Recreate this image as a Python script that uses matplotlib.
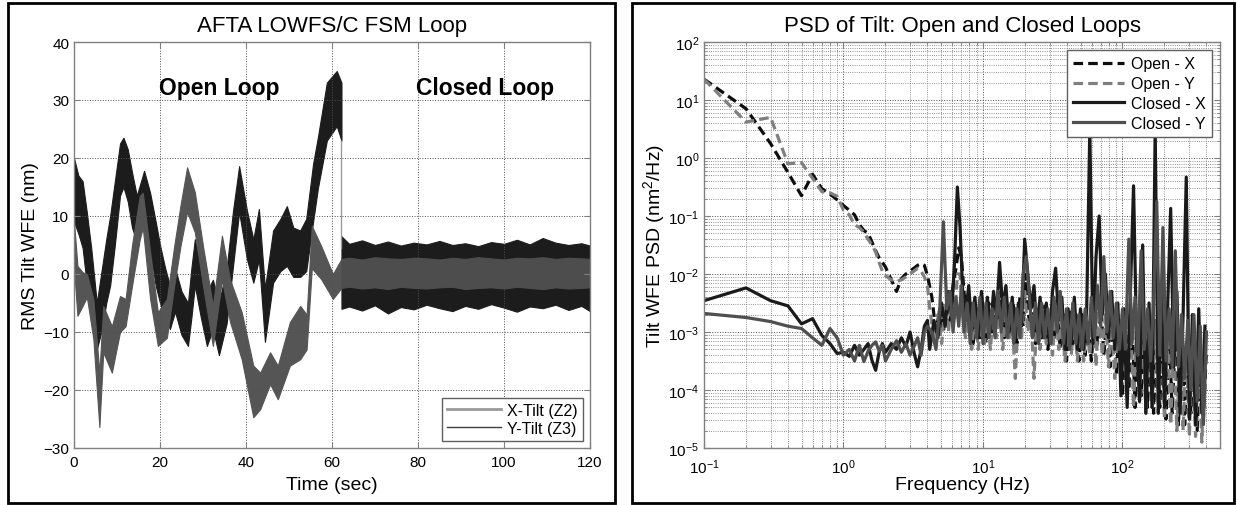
import numpy as np
import matplotlib
matplotlib.use("Agg")
import matplotlib.pyplot as plt
from matplotlib.lines import Line2D
from matplotlib.patches import Rectangle
from matplotlib.ticker import NullFormatter

plt.rcParams['font.family'] = ['Liberation Sans', 'DejaVu Sans']
plt.rcParams['mathtext.fontset'] = 'custom'
plt.rcParams['mathtext.rm'] = 'Liberation Sans'
plt.rcParams['mathtext.it'] = 'Liberation Sans:italic'
plt.rcParams['mathtext.bf'] = 'Liberation Sans:bold'

# ---- left panel: tilt time series, drawn as (lower, upper) envelope bands ----
t_x_open = [0, 1, 2, 3, 4, 5.3, 6.5, 7.5, 8.4, 9.5, 10.7, 11.5, 12.5, 13.5, 14.6, 16.3, 17.7,
            19, 20, 21.2, 22.3, 23.5, 25, 26.5, 27.3, 28.1, 29.5, 30.9, 32.3, 33.7, 35.5, 37,
            38.4, 40.2, 41.7, 43, 44.4, 46.3, 48, 49.5, 51, 52.6, 54, 55.6, 56.7, 58.8,
            61.1, 62.2]
x_open_hi = [20, 17, 16, 10.5, 4.5, -5, 1, 6, 10, 16, 22.5, 23.5, 21.5, 17.5, 13.5, 17.8, 14,
             9, 5, 1, -2, 1, -3, -5, 1, 6, 1.5, -3, -1, -5, 1, 11,
             18.6, 11, 6, 11.2, -2.5, 7.5, 9.5, 11.7, 8, 7.5, 9.5, 19, 23.5, 33,
             35, 33]
x_open_lo = [9, 7, 4.5, -2, -6, -13, -9.5, -5, -2, 5, 13.5, 15, 12.5, 8, 5.5, 10.7, 4,
             -2, -5, -7.5, -9.5, -6.5, -10.5, -12.4, -7.5, -2, -7.5, -12.4, -9.5, -14, -8.5, 1.5,
             10.7, 2.6, -1.5, 2.5, -11.7, -1.5, 0.5, 1.4, -0.5, -0.5, 0.5, 9, 14.7, 23,
             25.5, 23]

t_y_open = [0, 0.8, 2, 3, 4.5, 5.9, 6.8, 8.8, 10.7, 12, 13.5, 15.3, 16, 17.7, 19.5, 21.6,
            23.3, 24.8, 26.3, 28.1, 30, 32.3, 34.4, 36.3, 39, 41.7, 43.3, 45.6, 47.4, 50.2,
            52.6, 54.1, 55.3, 57.5, 60.2, 62.2]
y_open_hi = [9, 1.4, 0.3, 0, -4.3, -17, -5.5, -9, -3.8, -4.3, 5, 13.5, 14, 3.8, -6.6, -4.3,
             4.8, 12, 18.4, 14.1, 4.8, -5.5, 6.6, -1, -6.6, -15.8, -17, -13.5, -15.8, -8.3,
             -5.5, -7, 8.3, 4.8, 0, 2.6]
y_open_lo = [1, -7.2, -5.5, -4, -11.2, -26.4, -13.5, -17, -10, -9, -2, 6, 8, -4.3, -12.4, -11,
             -2, 5, 10.7, 7.2, -2, -12.4, -1, -8.3, -14.7, -24.7, -23.3, -19, -21.6, -15.8,
             -14.7, -13, 1, -0.9, -4.3, -2.4]

t_closed = [62.2, 64, 67, 70, 73, 76, 79, 82, 85, 88, 91, 94, 97, 100, 103, 106, 109, 112,
            115, 118, 120]
x_closed_hi = [6.5, 5.2, 5.8, 5.0, 5.6, 4.9, 5.4, 5.1, 5.7, 5.0, 5.3, 4.8, 5.5, 5.2, 5.9,
               5.1, 6.2, 5.4, 5.0, 5.3, 4.9]
x_closed_lo = [-6.0, -5.6, -6.3, -5.4, -6.8, -5.7, -6.1, -5.3, -5.9, -6.4, -5.5, -6.0, -5.2,
               -5.8, -6.5, -5.6, -5.9, -5.3, -6.2, -5.5, -6.4]
y_closed_hi = [2.6, 2.8, 2.5, 2.9, 2.7, 2.6, 2.8, 2.7, 2.5, 2.8, 2.6, 2.9, 2.7, 2.5, 2.8,
               2.7, 2.9, 2.6, 2.8, 2.7, 2.6]
y_closed_lo = [-2.4, -2.2, -2.5, -2.3, -2.6, -2.2, -2.4, -2.5, -2.3, -2.2, -2.6, -2.4, -2.3,
               -2.5, -2.2, -2.4, -2.6, -2.3, -2.5, -2.4, -2.3]

# the loop closes at 62.2 s: trace drops from the open-loop band to zero
t_switch = [62.2, 62.2]
v_switch = [23, 4.5]

# ---- right panel: PSDs (log10 of nm^2/Hz) ----
freq_low = [0.1, 0.2, 0.3, 0.4, 0.5, 0.6, 0.7, 0.8, 0.9, 1.0, 1.1, 1.2, 1.3, 1.4, 1.5, 1.6,
            1.7, 1.8, 1.9, 2.0, 2.2, 2.4, 2.6, 2.8, 3.0, 3.2, 3.4, 3.6, 3.8, 4.0]
# two sample grids above 4 Hz (read points sit at slightly different frequencies)
freq_hi_a = [4.3, 4.6, 4.9, 5.2, 5.5, 5.8, 6.1, 6.4, 6.7, 7.0, 7.3, 7.7, 8.1, 8.5, 9.0, 9.5,
             10, 10.5, 11, 11.6, 12.2, 12.8, 13.5, 14.2, 15, 15.8, 16.6, 17.5, 18.4, 19.4,
             20.4, 21.5, 22.6, 23.8, 25, 26.3, 27.7, 29.2, 30.7, 32.3, 34, 35.8, 37.7, 39.7,
             41.8, 44, 46.3, 48.7, 51.3, 54, 56.8, 59.8, 63, 66.3, 69.8, 73.5, 77.4, 81.5,
             85.8, 90.3, 95, 100, 105, 111, 117, 123, 129, 136, 143, 151, 159, 167, 176, 185,
             195, 205, 216, 227, 239, 252, 265, 279, 294, 309, 325, 343, 361, 380, 400]
freq_hi_b = [4.15, 4.45, 4.75, 5.05, 5.35, 5.65, 5.95, 6.25, 6.55, 6.85, 7.15, 7.5, 7.9, 8.3,
             8.75, 9.25, 9.75, 10.25, 10.75, 11.3, 11.9, 12.5, 13.15, 13.85, 14.6, 15.4, 16.2,
             17.05, 17.95, 18.9, 19.9, 20.95, 22.05, 23.2, 24.4, 25.65, 27, 28.45, 29.95,
             31.5, 33.15, 34.9, 36.75, 38.7, 40.75, 42.9, 45.15, 47.5, 50, 52.65, 55.4, 58.3,
             61.4, 64.6, 68, 71.6, 75.4, 79.4, 83.6, 88, 92.6, 97.5, 102.5, 108, 114, 120,
             126, 132.5, 139.5, 147, 155, 163, 171.5, 180.5, 190, 200, 210.5, 221.5, 233,
             245.5, 258.5, 272, 286.5, 301.5, 317, 334, 352, 370.5, 390]

open_x_log = [1.36, 0.85, 0.25, -0.25, -0.65, -0.28, -0.53, -0.62, -0.72, -0.82, -0.9, -0.98,
              -1.15, -1.25, -1.3, -1.45, -1.6, -1.72, -1.8, -1.88, -2.1, -2.3, -2.08, -2.0,
              -1.95, -1.9, -1.85, -1.82, -1.85, -2.03,
              -2.4, -3.0, -2.6, -3.0, -2.5, -2.8, -2.2, -1.9, -1.55, -1.7, -2.3, -2.8, -2.5,
              -3.2, -2.6, -3.1, -2.6, -3.2, -2.5, -3.0, -2.4, -2.9, -2.3, -3.1, -2.5, -3.0,
              -2.5, -3.2, -2.4, -2.9, -2.0, -2.9, -2.5, -3.2, -2.6, -3.1, -2.5, -3.3, -2.7,
              -3.1, -2.6, -3.3, -2.7, -3.5, -2.6, -3.2, -2.7, -3.5, -2.7, -3.4, -2.8, -3.5,
              -2.7, -3.2, -2.5, -3.4, -2.7, -3.6, -2.8, -3.7, -2.9, -4.1, -2.8, -4.0, -2.7,
              -4.3, -2.9, -4.1, -2.8, -4.3, -3.0, -4.4, -2.8, -4.3, -2.9, -4.5, -2.9, -4.4,
              -3.1, -4.6, -3.0, -4.6, -3.2, -4.4, -3.1, -4.7, -3.3, -4.5, -3.3]
open_y_log = [1.36, 0.62, 0.7, -0.1, -0.08, -0.35, -0.58, -0.6, -0.66, -0.9, -0.98, -1.15,
              -1.2, -1.28, -1.4, -1.5, -1.62, -1.8, -1.95, -2.03, -2.1, -2.13, -2.1, -2.05,
              -2.0, -1.95, -1.9, -1.95, -2.05, -2.2,
              -2.6, -3.1, -2.7, -3.2, -2.5, -3.0, -2.4, -2.8, -2.0, -2.0, -2.7, -3.1, -2.6,
              -3.3, -2.7, -3.3, -2.6, -3.2, -2.7, -3.3, -2.6, -3.1, -2.6, -3.3, -2.7, -3.1,
              -2.8, -3.8, -2.6, -3.1, -2.3, -3.0, -2.7, -3.8, -2.7, -3.3, -2.6, -3.2, -2.8,
              -3.4, -2.6, -3.3, -2.8, -3.5, -2.7, -3.4, -2.8, -3.5, -2.7, -3.5, -2.9, -3.4,
              -2.6, -3.6, -2.5, -3.4, -2.7, -3.6, -2.8, -3.8, -2.7, -4.0, -3.0, -4.1, -2.7,
              -4.3, -3.0, -4.2, -2.8, -4.4, -2.9, -4.3, -2.8, -4.4, -3.0, -4.5, -2.9, -4.6,
              -3.1, -4.7, -3.1, -4.7, -3.2, -4.8, -3.1, -4.8, -3.3, -4.9, -3.4]
closed_x_log = [-2.46, -2.24, -2.46, -2.55, -2.86, -2.77, -3.06, -3.2, -3.37, -3.35, -3.42,
                -3.23, -3.4, -3.3, -3.2, -3.49, -3.66, -3.35, -3.2, -3.35, -3.2, -3.3, -3.1,
                -3.25, -3.0, -3.35, -3.6, -3.3, -2.9, -2.8,
                -3.3, -2.8, -3.1, -2.5, -2.9, -2.3, -2.7, -1.8, -0.5, -1.2, -2.3, -2.7, -2.2,
                -2.9, -2.4, -3.1, -2.3, -2.9, -2.4, -3.0, -2.3, -2.7, -1.8, -2.6, -2.2, -3.0,
                -2.4, -3.1, -2.5, -2.9, -1.4, -2.0, -2.6, -2.2, -3.0, -2.4, -3.1, -2.5, -3.2,
                -2.3, -1.9, -2.8, -2.4, -3.3, -2.6, -3.2, -2.4, -3.3, -2.6, -3.3, -2.6, 0.5,
                -3.2, -1.7, -1.0, -2.7, -2.0, -3.1, -2.3, -3.3, -2.5, -4.1, -2.6, -4.3, -2.3,
                -0.48, -3.1, -4.2, -1.5, -4.4, -2.5, -4.3, 0.5, -4.4, -2.2, -4.3, -2.6, -0.87,
                -3.6, -2.3, -4.4, -2.7, -0.33, -4.5, -2.7, -4.6, -2.6, -4.4, -2.9]
closed_y_log = [-2.68, -2.75, -2.82, -2.9, -2.94, -3.1, -3.23, -2.94, -3.1, -3.4, -3.3, -3.5,
                -3.23, -3.51, -3.33, -3.23, -3.17, -3.33, -3.23, -3.5, -3.3, -3.15, -3.35,
                -3.2, -3.4, -3.25, -3.1, -3.4, -3.0, -2.9,
                -3.0, -3.3, -2.6, -1.1, -2.6, -2.3, -3.0, -2.4, -2.9, -2.2, -3.0, -2.5, -3.2,
                -2.5, -3.1, -2.4, -3.2, -2.5, -3.1, -2.6, -3.1, -2.3, -3.0, -2.4, -3.1, -2.5,
                -3.2, -2.6, -3.1, -2.0, -1.7, -2.4, -3.1, -2.5, -3.2, -2.5, -3.1, -2.6, -3.2,
                -2.4, -3.0, -2.3, -3.2, -2.6, -3.3, -2.5, -3.2, -2.7, -3.3, -2.6, -3.2, -2.4,
                -3.1, -2.2, -2.9, -1.7, -3.0, -2.3, -3.1, -2.5, -3.3, -2.6, -3.3, -1.4, -3.2,
                -2.4, -3.4, -1.6, -3.3, -2.6, -3.5, -2.5, -0.75, -3.4, -1.2, -3.5, -2.6,
                -3.6, -1.6, -3.6, -2.7, -3.8, -2.8, -4.0, -2.7, -4.2, -2.9, -4.6, -3.0]

psd_series = [
    ("Open - X", freq_low + freq_hi_a, open_x_log, "#0d0d0d", (0, (3, 1.6))),
    ("Open - Y", freq_low + freq_hi_b, open_y_log, "#7f7f7f", (0, (3, 1.6))),
    ("Closed - X", freq_low + freq_hi_b, closed_x_log, "#1a1a1a", "-"),
    ("Closed - Y", freq_low + freq_hi_a, closed_y_log, "#4f4f4f", "-"),
]

fig = plt.figure(figsize=(12.37, 5.06), dpi=100)
W, H = 1237, 506

def style_axes(ax):
    for s in ax.spines.values():
        s.set_color("#808080")
        s.set_linewidth(1.0)
    ax.tick_params(which="both", direction="in", top=True, right=True,
                   color="#808080", labelcolor="black", labelsize=11)
    ax.tick_params(which="major", length=4.5)
    ax.tick_params(which="minor", length=2.5)

# left
ax1 = fig.add_axes([74 / W, 1 - 449 / H, 516 / W, 406 / H])
ax1.fill_between(t_x_open, x_open_lo, x_open_hi, color="#1c1c1c", lw=0.8, ec="#1c1c1c")
ax1.fill_between(t_closed, x_closed_lo, x_closed_hi, color="#1c1c1c", lw=0.8, ec="#1c1c1c")
ax1.plot(t_switch, v_switch, color="#9a9a9a", lw=1.0)
ax1.fill_between(t_y_open, y_open_lo, y_open_hi, color="#555555", lw=0.8, ec="#555555")
ax1.fill_between(t_closed, y_closed_lo, y_closed_hi, color="#4d4d4d", lw=0.8, ec="#4d4d4d")
ax1.set_xlim(0, 120)
ax1.set_ylim(-30, 40)
ax1.set_xticks(range(0, 121, 20))
ax1.set_yticks(range(-30, 41, 10))
ax1.grid(True, ls=":", color="#505050", lw=0.7)
style_axes(ax1)
ax1.tick_params(axis="x", pad=5)
ax1.set_title("AFTA LOWFS/C FSM Loop", fontsize=16, pad=8)
ax1.set_xlabel("Time (sec)", fontsize=14, labelpad=5)
ax1.set_ylabel("RMS Tilt WFE (nm)", fontsize=14, labelpad=3)
ax1.text(33.7, 32.2, "Open Loop", fontsize=16.5, fontweight="bold", ha="center", va="center")
ax1.text(95.7, 32.2, "Closed Loop", fontsize=16.5, fontweight="bold", ha="center", va="center")
handles = [Line2D([], [], color="#9a9a9a", lw=2.0), Line2D([], [], color="#404040", lw=1.0)]
leg1 = ax1.legend(handles, ["X-Tilt (Z2)", "Y-Tilt (Z3)"], loc="lower right", fontsize=11.5,
                  handlelength=3.4, fancybox=False, framealpha=1, edgecolor="#606060",
                  borderaxespad=0.45, labelspacing=0.2, handletextpad=0.4, borderpad=0.3)
leg1.get_frame().set_linewidth(1.0)

# right
ax2 = fig.add_axes([704 / W, 1 - 449 / H, 516 / W, 406 / H])
for name, f, vals, col, ls in psd_series:
    ax2.loglog(f, 10 ** np.array(vals), color=col, ls=ls, lw=2.3, label=name)
ax2.set_xlim(0.1, 500)
ax2.set_ylim(1e-5, 1e2)
ax2.xaxis.set_minor_formatter(NullFormatter())
ax2.yaxis.set_minor_formatter(NullFormatter())
ax2.grid(True, which="major", ls=":", color="#505050", lw=0.7)
ax2.grid(True, which="minor", ls=":", color="#707070", lw=0.6)
style_axes(ax2)
ax2.tick_params(axis="x", pad=7)
ax2.set_title("PSD of Tilt: Open and Closed Loops", fontsize=16, pad=8)
ax2.set_xlabel("Frequency (Hz)", fontsize=14, labelpad=0)
ax2.set_ylabel("Tilt WFE PSD (nm$^2$/Hz)", fontsize=14, labelpad=1)
leg2 = ax2.legend(loc="upper right", fontsize=11.5, handlelength=3.2, fancybox=False,
                  framealpha=1, edgecolor="#606060", borderaxespad=0.5, labelspacing=0.3,
                  handletextpad=0.4, borderpad=0.4)
leg2.get_frame().set_linewidth(1.0)

# figure frames round each panel
fig.add_artist(Rectangle((8 / W, 2 / H), 607 / W, 500 / H, transform=fig.transFigure,
                         fill=False, lw=2, ec="black"))
fig.add_artist(Rectangle((632 / W, 2 / H), 602 / W, 500 / H, transform=fig.transFigure,
                         fill=False, lw=2, ec="black"))

fig.savefig("out.png", dpi=100)
